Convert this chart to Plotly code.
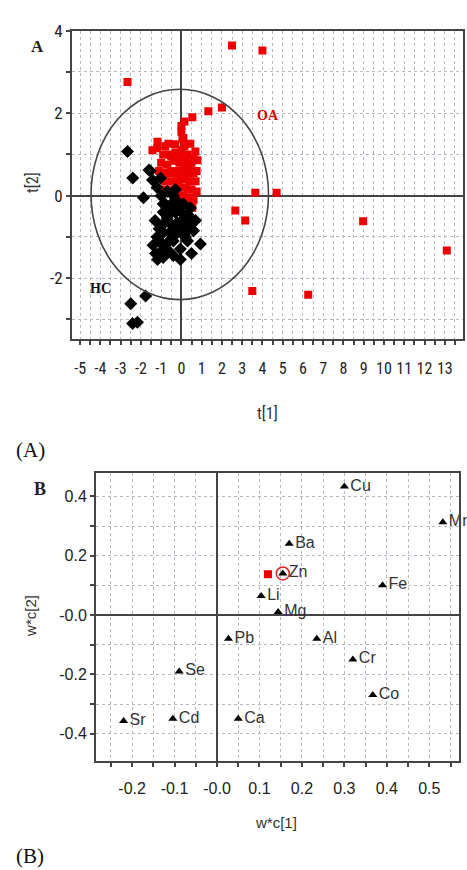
import plotly.graph_objects as go

W, H = 467, 870

# ---------------- Panel A data (scores t[1], t[2]) ----------------
oa_x = [-2.66, 2.5, 4.0, 0.54, 1.33, 2.0, 3.65, 4.7, 2.66, 3.15, 8.97, 13.1, 3.5, 6.26,
        0.0, 0.0, 0.05, -1.18, -1.43, -0.64, 0.44, 0.69, 0.79,
        -0.9, -0.6, -0.3, 0.0, 0.3, -1.0, -0.7, -0.4, -0.1, 0.2, 0.5,
        -0.9, -0.6, -0.3, 0.0, 0.3, 0.6, -0.8, -0.5, -0.2, 0.1, 0.4, 0.7,
        -0.4, -0.1, 0.2, 0.5, 0.75, -0.2, 0.1, 0.4, 0.6, 0.44, 0.54, 0.2,
        -0.5, -0.2, 0.1, 0.4, -0.15, 0.25,
        -1.2, -0.8, -0.3, 0.15, -1.1, -0.8, 0.45, 0.6, 0.75, 0.1, -0.5, 0.3, 0.1, 0.15, -0.2]
oa_y = [2.76, 3.64, 3.52, 1.9, 2.05, 2.14, 0.07, 0.07, -0.36, -0.6, -0.62, -1.33, -2.31, -2.4,
        1.69, 1.55, 1.38, 1.31, 1.1, 1.26, 1.26, 1.07, 0.86,
        1.0, 1.0, 1.05, 1.1, 1.0, 0.8, 0.75, 0.85, 0.8, 0.85, 0.8,
        0.55, 0.55, 0.6, 0.6, 0.6, 0.55, 0.35, 0.35, 0.4, 0.4, 0.35, 0.35,
        0.15, 0.2, 0.2, 0.15, 0.1, 0.0, 0.0, -0.05, -0.1, -0.2, -0.29, -0.15,
        0.95, 0.9, 0.95, 0.7, 0.25, 0.5,
        1.15, 1.2, 1.25, 1.2, 0.6, 0.15, 0.55, 0.9, 0.6, 0.75, 0.6, 0.15, 1.4, 1.8, 0.55]

hc_x = [-2.66, -2.4, -1.87, -1.6, -1.43, -1.03, -1.2, -1.0, -1.53,
        -0.7, -0.4, -0.8, -0.5, -0.2, 0.1,
        -0.9, -0.6, -0.3, 0.0, 0.3,
        -0.8, -0.5, -0.2, 0.1, 0.4, 0.6,
        -0.9, -0.6, -0.3, 0.0, 0.3, 0.6, 0.7,
        -1.0, -0.7, -0.4, 0.3, 0.94,
        -1.28, -1.0, -0.7, -0.05,
        -1.18, -0.05, -0.9,
        -1.77, -2.5, -2.41, -2.17,
        -1.3, -1.1, -1.2, -0.2, -0.55, -0.15, 0.2, 0.45, -0.3, -0.9, -1.4, -0.4, 0.5, -0.7, 0.15]
hc_y = [1.07, 0.43, -0.05, 0.62, 0.38, 0.43, 0.2, 0.0, 0.6,
        0.1, 0.0, -0.2, -0.2, -0.15, -0.2,
        -0.4, -0.45, -0.4, -0.4, -0.45,
        -0.65, -0.7, -0.65, -0.7, -0.65, -0.6,
        -0.9, -0.9, -0.95, -0.9, -0.85, -0.85, -0.6,
        -1.15, -1.15, -1.1, -1.1, -1.17,
        -1.4, -1.35, -1.3, -1.29,
        -1.55, -1.55, -1.5,
        -2.43, -2.62, -3.1, -3.07,
        -0.6, -0.8, -1.0, -0.25, -0.3, -0.8, -1.0, -0.3, 0.15, -0.2, -1.2, -1.45, -1.4, -0.55, -0.55]

# Hotelling ellipse (center and semi-axes, in t units)
ell_cx, ell_cy, ell_a, ell_b = -0.08, 0.03, 4.38, 2.55

a_xticks = list(range(-5, 14))
a_yticks = [4, 2, 0, -2]

# ---------------- Panel B data (loadings w*c[1], w*c[2]) ----------------
elements = ["Cu", "Mn", "Ba", "Zn", "Fe", "Li", "Mg", "Pb", "Al", "Cr", "Co", "Ca", "Se", "Cd", "Sr"]
wc1 = [0.30, 0.532, 0.17, 0.155, 0.39, 0.104, 0.144, 0.027, 0.235, 0.32, 0.367, 0.05, -0.089, -0.104, -0.22]
wc2 = [0.433, 0.313, 0.24, 0.14, 0.10, 0.064, 0.01, -0.08, -0.08, -0.15, -0.27, -0.35, -0.19, -0.35, -0.357]
y_var = [0.12]      # response (red square) w*c[1]
y_var2 = [0.137]    # response w*c[2]

b_xtickvals = [-0.2, -0.1, 0.0, 0.1, 0.2, 0.3, 0.4, 0.5]
b_xticktext = ["-0.2", "-0.1", "-0.0", "0.1", "0.2", "0.3", "0.4", "0.5"]
b_ytickvals = [0.4, 0.2, 0.0, -0.2, -0.4]
b_yticktext = ["0.4", "0.2", "-0.0", "-0.2", "-0.4"]


def fx(px):
    return px / W


def fy(py):
    return 1 - py / H


NARROW = "Liberation Sans Narrow, Arial Narrow, Roboto Condensed, DejaVu Sans Condensed, Arial"
SERIF = "Liberation Serif, Times New Roman, serif"
SANS = "Liberation Sans, Arial, sans-serif"
FRAME = "#444444"
GRID = "#b8b8c4"

fig = go.Figure()

fig.add_trace(go.Scatter(x=oa_x, y=oa_y, mode="markers", xaxis="x", yaxis="y",
                         marker=dict(symbol="square", size=8, color="#ee0000"),
                         showlegend=False, cliponaxis=True))
fig.add_trace(go.Scatter(x=hc_x, y=hc_y, mode="markers", xaxis="x", yaxis="y",
                         marker=dict(symbol="diamond", size=10, color="#000000"),
                         showlegend=False))

fig.add_trace(go.Scatter(x=y_var, y=y_var2, mode="markers", xaxis="x2", yaxis="y2",
                         marker=dict(symbol="square", size=8, color="#ee0000"),
                         showlegend=False))
fig.add_trace(go.Scatter(x=[wc1[3]], y=[wc2[3]], mode="markers", xaxis="x2", yaxis="y2",
                         marker=dict(symbol="circle-open", size=13, color="#dd2222",
                                     line=dict(width=1.5, color="#dd2222")),
                         showlegend=False))
fig.add_trace(go.Scatter(x=wc1, y=wc2, mode="markers+text", xaxis="x2", yaxis="y2",
                         text=elements, textposition="middle right",
                         textfont=dict(family=SANS, size=16, color="#333333"),
                         marker=dict(symbol="triangle-up", size=8, color="#000000"),
                         showlegend=False, cliponaxis=False))

fig.add_shape(type="circle", xref="x", yref="y",
              x0=ell_cx - ell_a, x1=ell_cx + ell_a, y0=ell_cy - ell_b, y1=ell_cy + ell_b,
              line=dict(color=FRAME, width=1.6))

common_axis = dict(showline=True, mirror=True, linecolor=FRAME, linewidth=2,
                   ticks="outside", ticklen=4, tickcolor=FRAME, tickwidth=1.5,
                   showgrid=True, gridcolor=GRID, griddash="dot", gridwidth=1,
                   zeroline=True, zerolinecolor=FRAME, zerolinewidth=1.6)

fig.update_layout(
    width=W, height=H, autosize=False,
    margin=dict(l=0, r=0, t=0, b=0),
    paper_bgcolor="white", plot_bgcolor="white",
    xaxis=dict(domain=[fx(72), fx(463)], anchor="y", range=[-5.4, 13.9],
               tickvals=a_xticks, ticktext=[str(v) for v in a_xticks], tickangle=0,
               tickfont=dict(family=NARROW, size=16, color="#222222"),
               ticklabelstandoff=10,
               minor=dict(dtick=0.5, tick0=0, ticks="outside", ticklen=4, tickcolor=FRAME,
                          showgrid=True, gridcolor=GRID, griddash="dot"),
               **common_axis),
    yaxis=dict(domain=[fy(333), fy(21)], anchor="x", range=[-3.48, 4.0],
               tickvals=a_yticks, ticktext=[str(v) for v in a_yticks],
               tickfont=dict(family=NARROW, size=17, color="#222222"),
               minor=dict(dtick=1, tick0=0, ticks="outside", ticklen=4, tickcolor=FRAME,
                          showgrid=True, gridcolor=GRID, griddash="dot"),
               **common_axis),
    xaxis2=dict(domain=[fx(96), fx(459)], anchor="y2", range=[-0.285, 0.57],
                tickvals=b_xtickvals, ticktext=b_xticktext, tickangle=0,
                tickfont=dict(family=SANS, size=16, color="#222222"),
                ticklabelstandoff=8,
                minor=dict(dtick=0.05, tick0=0, ticks="outside", ticklen=4, tickcolor=FRAME,
                           showgrid=True, gridcolor=GRID, griddash="dot"),
                **common_axis),
    yaxis2=dict(domain=[fy(760), fy(468)], anchor="x2", range=[-0.493, 0.48],
                tickvals=b_ytickvals, ticktext=b_yticktext,
                tickfont=dict(family=SANS, size=16, color="#222222"),
                minor=dict(dtick=0.1, tick0=0, ticks="outside", ticklen=4, tickcolor=FRAME,
                           showgrid=True, gridcolor=GRID, griddash="dot"),
                **common_axis),
)

ann = [
    dict(text="<b>A</b>", x=fx(37), y=fy(37), font=dict(family=SERIF, size=17, color="#222")),
    dict(text="<b>B</b>", x=fx(40), y=fy(485), font=dict(family=SERIF, size=18, color="#222")),
    dict(text="(A)", x=fx(30), y=fy(445), font=dict(family=SERIF, size=21, color="#111")),
    dict(text="(B)", x=fx(30), y=fy(856), font=dict(family=SERIF, size=21, color="#111")),
    dict(text="t[2]", x=fx(33), y=fy(175), textangle=-90, font=dict(family=NARROW, size=16, color="#333")),
    dict(text="t[1]", x=fx(267), y=fy(408), font=dict(family=NARROW, size=16, color="#333")),
    dict(text="w*c[2]", x=fx(31), y=fy(613), textangle=-90, font=dict(family=SANS, size=15, color="#333")),
    dict(text="w*c[1]", x=fx(276), y=fy(822), font=dict(family=SANS, size=15, color="#333")),
    dict(text="<b>OA</b>", x=fx(268), y=fy(107), font=dict(family=SERIF, size=14, color="#dd0000")),
    dict(text="<b>HC</b>", x=fx(100), y=fy(282), font=dict(family=SERIF, size=14, color="#111")),
]
for a in ann:
    a.update(xref="paper", yref="paper", showarrow=False, xanchor="center", yanchor="middle")
fig.update_layout(annotations=ann)

fig.write_html("out.html")
